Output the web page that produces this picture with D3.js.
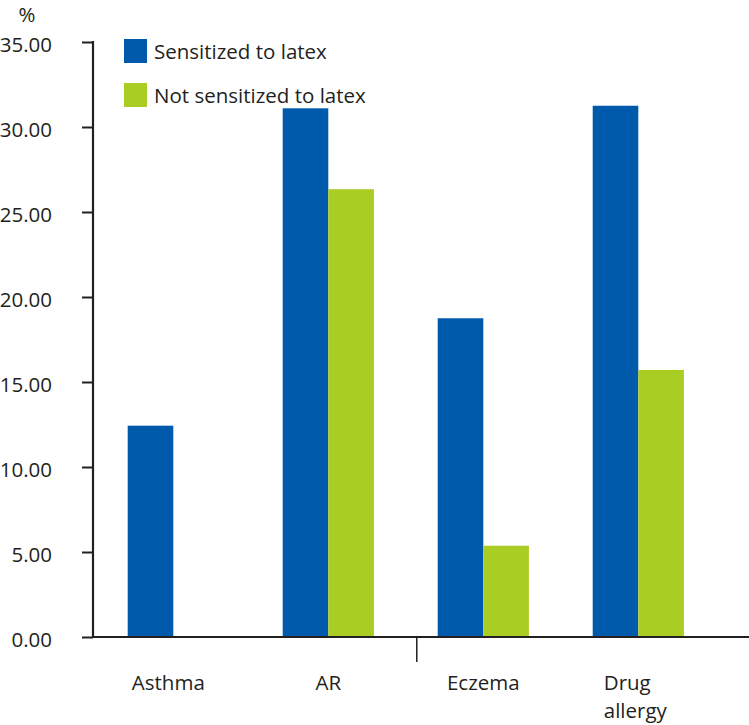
<!DOCTYPE html>
<html>
<head>
<meta charset="utf-8">
<script src="https://cdn.jsdelivr.net/npm/d3@7"></script>
<style>
  html, body { margin: 0; padding: 0; background: #fff; }
  svg { display: block; }
  text { font-family: "Open Sans", sans-serif; fill: #231F20; }
</style>
</head>
<body>
<svg id="chart" width="749" height="725"></svg>
<script>
// ---- data ----
const categories = ["Asthma", "AR", "Eczema", "Drug allergy"];
const categoryLines = [["Asthma"], ["AR"], ["Eczema"], ["Drug", "allergy"]];
const seriesNames = ["Sensitized to latex", "Not sensitized to latex"];
const sensitized = [12.43, 31.10, 18.75, 31.25];
const notSensitized = [0, 26.34, 5.37, 15.71];
const yTicks = [0, 5, 10, 15, 20, 25, 30, 35];
const yUnit = "%";

// ---- layout ----
const colors = ["#005AAB", "#A9CD22"];
const axisColor = "#231F20";
const fontSize = 20.5;
const svg = d3.select("#chart");

const y = d3.scaleLinear().domain([0, 35]).range([637, 42]);
const x = d3.scaleBand().domain(categories).range([63.9, 747.7]).paddingInner(0.4116).paddingOuter(0.4116);
const xs = d3.scaleBand().domain(seriesNames).range([0, x.bandwidth()]);

const series = [sensitized, notSensitized];
const rows = categories.map((c, i) => ({ cat: c, vals: series.map(s => s[i]) }));

// bars
const g = svg.append("g");
rows.forEach(r => {
  r.vals.forEach((v, k) => {
    if (v <= 0) return;
    g.append("rect")
      .attr("x", x(r.cat) + xs(seriesNames[k]))
      .attr("y", y(v))
      .attr("width", xs.bandwidth())
      .attr("height", y(0) - y(v))
      .attr("fill", colors[k]);
  });
});

// y axis
const axisX = 93;
const yAxis = d3.axisLeft(y).tickValues(yTicks).tickFormat(d3.format(".2f")).tickSize(11).tickPadding(30);
const ya = svg.append("g").attr("transform", `translate(${axisX},0)`).call(yAxis);
ya.select(".domain").remove();
ya.selectAll(".tick line").attr("stroke", axisColor).attr("stroke-width", 2);
ya.selectAll(".tick text")
  .attr("font-family", "'Open Sans', sans-serif")
  .attr("font-size", fontSize)
  .attr("fill", axisColor)
  .attr("dy", "0.45em");
svg.append("line")
  .attr("x1", axisX).attr("x2", axisX)
  .attr("y1", y(35) - 1).attr("y2", y(0) + 1)
  .attr("stroke", axisColor).attr("stroke-width", 2.2);

// x axis line
svg.append("line")
  .attr("x1", axisX).attr("x2", 749)
  .attr("y1", y(0)).attr("y2", y(0))
  .attr("stroke", axisColor).attr("stroke-width", 2.2);

// stray tick below the x axis
const midTickX = x("Eczema") - 0.135 * x.step();
svg.append("line")
  .attr("x1", midTickX).attr("x2", midTickX)
  .attr("y1", y(0)).attr("y2", y(0) + 25)
  .attr("stroke", axisColor).attr("stroke-width", 1.5);

// category labels
categoryLines.forEach((lines, i) => {
  const cx = x(categories[i]) + x.bandwidth() / 2;
  const t = svg.append("text")
    .attr("font-size", fontSize)
    .attr("y", 690);
  if (lines.length === 1) {
    t.attr("x", cx - (i === 0 ? 5 : 0)).attr("text-anchor", "middle").text(lines[0]);
  } else {
    lines.forEach((ln, j) => {
      t.append("tspan").attr("dy", j === 0 ? 0 : 28).text(ln);
    });
    let w = 0;
    t.selectAll("tspan").each(function () { w = Math.max(w, this.getComputedTextLength()); });
    const left = cx - w / 2 - 3;
    t.selectAll("tspan").attr("x", left);
  }
});

// unit label
svg.append("text")
  .attr("x", 27).attr("y", 22)
  .attr("text-anchor", "middle")
  .attr("font-size", fontSize)
  .text(yUnit);

// legend
const legend = svg.append("g");
seriesNames.forEach((name, k) => {
  const top = 39 + k * 44;
  legend.append("rect")
    .attr("x", 124).attr("y", top)
    .attr("width", 23).attr("height", 24)
    .attr("fill", colors[k]);
  legend.append("text")
    .attr("x", 154).attr("y", top + 20)
    .attr("font-size", fontSize)
    .text(name);
});
</script>
</body>
</html>
